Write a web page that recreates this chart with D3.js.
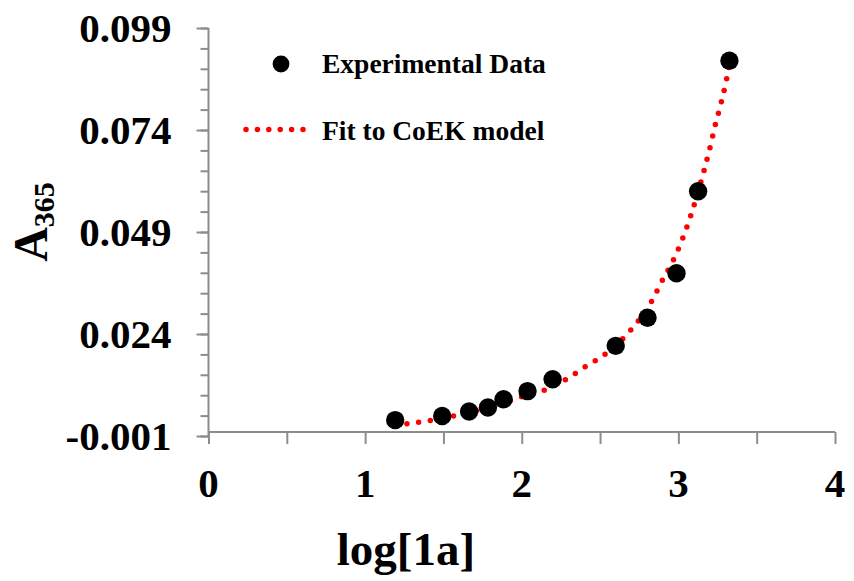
<!DOCTYPE html>
<html>
<head>
<meta charset="utf-8">
<script src="https://cdn.jsdelivr.net/npm/d3@7"></script>
<style>
  html, body { margin: 0; padding: 0; background: #fff; }
  svg text { font-family: "Liberation Serif", "Times New Roman", serif; font-weight: bold; fill: #000; }
</style>
</head>
<body>
<svg id="chart" width="854" height="581"></svg>
<script>
// Measured absorbance at 365 nm against log[1a]
const logConc = [1.192, 1.492, 1.664, 1.784, 1.884, 2.037, 2.197, 2.600, 2.803, 2.988, 3.126, 3.326];
const absorbance = [0.0029, 0.0039, 0.0050, 0.0060, 0.0080, 0.0100, 0.0129, 0.0211, 0.0280, 0.0389, 0.0590, 0.0910];

// CoEK model curve
const fitX = [1.267, 1.415, 1.567, 1.80, 1.999, 2.141, 2.275, 2.403, 2.530, 2.692, 2.826, 2.894, 2.966, 3.026, 3.077, 3.162, 3.200, 3.234, 3.273, 3.307, 3.328];
const fitY = [0.0020, 0.0028, 0.0039, 0.0061, 0.0086, 0.0102, 0.0127, 0.0159, 0.0190, 0.0248, 0.0318, 0.0369, 0.0420, 0.0473, 0.0528, 0.0638, 0.0694, 0.0750, 0.0807, 0.0863, 0.0907];

const yTicks = [-0.001, 0.024, 0.049, 0.074, 0.099];
const xTicks = [0, 1, 2, 3, 4];
const seriesNames = ["Experimental Data", "Fit to CoEK model"];

const svg = d3.select("#chart");
const axisColor = "#8c8c8c";

const x = d3.scaleLinear().domain([0, 4]).range([208.5, 835]);
const y = d3.scaleLinear().domain([-0.001, 0.099]).range([436, 28]);

// Y axis: major every 0.025, minor every 0.005
const yMinor = d3.range(0, 21).map(i => -0.001 + i * 0.005);
const yAxisMinor = d3.axisLeft(y).tickValues(yMinor).tickSize(8).tickFormat("");
const yAxisMajor = d3.axisLeft(y).tickValues(yTicks).tickSize(12).tickPadding(25)
  .tickFormat(d => d3.format(".3f")(d).replace("\u2212", "-"));

const gyMinor = svg.append("g").attr("transform", `translate(${x(0)},0)`).call(yAxisMinor);
const gy = svg.append("g").attr("transform", `translate(${x(0)},0)`).call(yAxisMajor);
[gyMinor, gy].forEach(g => {
  g.selectAll("path, line").attr("stroke", axisColor).attr("stroke-width", 2);
});
gyMinor.select(".domain").remove();
gy.select(".domain").attr("d", `M0,${y(0.099)}V${y(-0.001)}`);
gy.selectAll("text").attr("font-size", 41).attr("dy", "0.34em").attr("fill", "#000");

// X axis crosses at zero
const xMinor = d3.range(0, 9).map(i => i * 0.5);
const xAxis = d3.axisBottom(x).tickValues(xMinor).tickSize(12).tickFormat("");
const gx = svg.append("g").attr("transform", `translate(0,${y(0)})`).call(xAxis);
gx.selectAll("path, line").attr("stroke", axisColor).attr("stroke-width", 2);
gx.select(".domain").attr("d", `M${x(0)},0H${x(4)}`);

svg.append("g").selectAll("text").data(xTicks).join("text")
  .attr("x", d => x(d)).attr("y", 497)
  .attr("text-anchor", "middle").attr("font-size", 41)
  .text(d => d);

// Axis titles
svg.append("text").attr("x", 406).attr("y", 565)
  .attr("text-anchor", "middle").attr("font-size", 47).text("log[1a]");

const yTitle = svg.append("text")
  .attr("transform", "translate(47,222) rotate(-90)")
  .attr("text-anchor", "middle");
yTitle.append("tspan").attr("font-size", 48).text("A");
yTitle.append("tspan").attr("font-size", 30).attr("dy", 7).text("365");

// Fit curve (dotted)
const pts = fitX.map((v, i) => [v, fitY[i]]);
const line = d3.line().x(d => x(d[0])).y(d => y(d[1])).curve(d3.curveMonotoneX);
svg.append("path").datum(pts)
  .attr("d", line)
  .attr("fill", "none").attr("stroke", "#ff0000")
  .attr("stroke-width", 5.5).attr("stroke-linecap", "round")
  .attr("stroke-dasharray", "0 11.8");

// Experimental points
svg.append("g").selectAll("circle").data(logConc).join("circle")
  .attr("cx", d => x(d)).attr("cy", (d, i) => y(absorbance[i]))
  .attr("r", 9.2).attr("fill", "#000");

// Legend
const legend = svg.append("g");
legend.append("circle").attr("cx", 281).attr("cy", 64).attr("r", 8.4).attr("fill", "#000");
legend.append("text").attr("x", 322).attr("y", 73).attr("font-size", 27.5).text(seriesNames[0]);
legend.append("line").attr("x1", 246).attr("x2", 304).attr("y1", 129.5).attr("y2", 129.5)
  .attr("stroke", "#ff0000").attr("stroke-width", 5.5).attr("stroke-linecap", "round")
  .attr("stroke-dasharray", "0 11.4");
legend.append("text").attr("x", 322).attr("y", 140).attr("font-size", 27.5).text(seriesNames[1]);
</script>
</body>
</html>
